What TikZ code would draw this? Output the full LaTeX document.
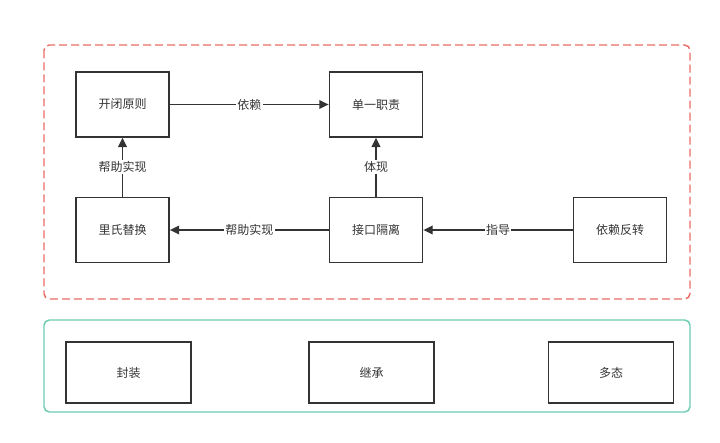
\documentclass[tikz,border=0pt]{standalone}
\usepackage{fontspec}
\setmainfont{Noto Sans CJK SC}
\usetikzlibrary{arrows.meta}

\definecolor{boxgray}{HTML}{333333}
\definecolor{framered}{HTML}{EA6B66}
\definecolor{framegreen}{HTML}{6CCDB2}

\tikzset{
    principle/.style={draw=boxgray, line width=1.1pt, minimum width=70pt, minimum height=48.75pt, inner sep=0pt, font=\fontsize{9}{11}\selectfont, text=boxgray},
    feature/.style={principle, minimum width=93.75pt, minimum height=45.75pt},
    link/.style={draw=boxgray, line width=1.1pt, -{Triangle[width=6.5pt,length=7pt]}},
    tag/.style={fill=white, inner sep=1pt, font=\fontsize{9}{11}\selectfont, text=boxgray}
}

\begin{document}
\begin{tikzpicture}[x=0.75pt, y=-0.75pt]
                \useasboundingbox (0,0) rectangle (720,442);

                % Frames
                \draw[framered, line width=1.1pt, dash pattern=on 6pt off 3pt, rounded corners=4pt] (44,45) rectangle (690,299);
                \draw[framegreen, line width=1.1pt, rounded corners=4pt] (44,320) rectangle (690,412);

                % Nodes
                \node[principle] (ocp) at (122.5,104.5) {开闭原则};
                \node[principle] (srp) at (376,104.5) {单一职责};
                \node[principle] (lsp) at (122.5,230) {里氏替换};
                \node[principle] (isp) at (376,230) {接口隔离};
                \node[principle] (dip) at (620,230) {依赖反转};
                \node[feature] (enc) at (128.5,372.5) {封装};
                \node[feature] (inh) at (371.5,372.5) {继承};
                \node[feature] (poly) at (611,372.5) {多态};

                % Edges
                \draw[link] (ocp)--(srp) node[tag, midway] {依赖};
                \draw[link] (lsp)--(ocp) node[tag, midway] {帮助实现};
                \draw[link] (isp)--(srp) node[tag, midway] {体现};
                \draw[link] (isp)--(lsp) node[tag, midway] {帮助实现};
                \draw[link] (dip)--(isp) node[tag, midway] {指导};
            \end{tikzpicture}
\end{document}
